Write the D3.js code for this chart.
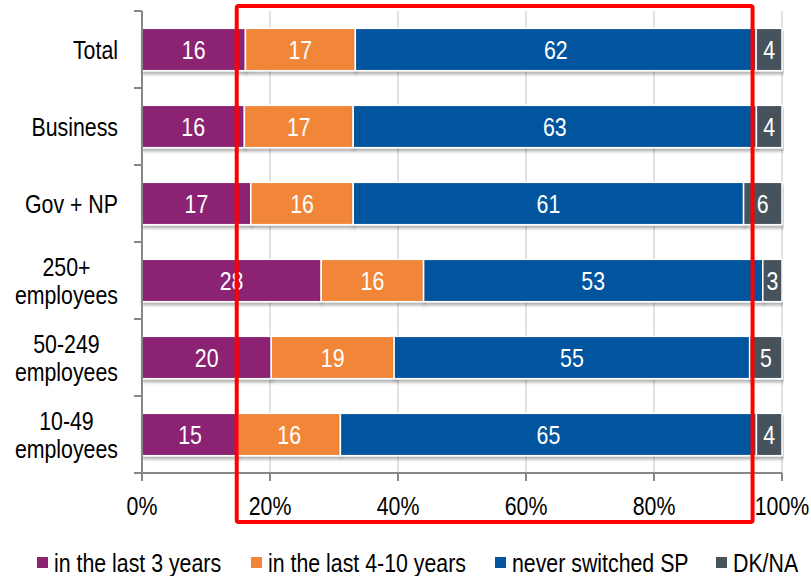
<!DOCTYPE html>
<html>
<head>
<meta charset="utf-8">
<script src="https://cdnjs.cloudflare.com/ajax/libs/d3/7.8.5/d3.min.js"></script>
<style>
  body { margin: 0; background: #fff; }
  svg text { font-family: "Liberation Sans Narrow", "Arial Narrow", "Liberation Sans", Arial, sans-serif; }
</style>
</head>
<body>
<div id="chart"></div>
<script>
var w = 811;
var h = 576;

// values (%)
var categories = ["Total", "Business", "Gov + NP", "250+\nemployees", "50-249\nemployees", "10-49\nemployees"];
var last3 = [16, 16, 17, 28, 20, 15];
var last4to10 = [17, 17, 16, 16, 19, 16];
var never = [62, 63, 61, 53, 55, 65];
var dkna = [4, 4, 6, 3, 5, 4];
var seriesNames = ["in the last 3 years", "in the last 4-10 years", "never switched SP", "DK/NA"];
var xTicks = [0, 0.2, 0.4, 0.6, 0.8, 1];

var colors = ["#8B2372", "#F18638", "#02559E", "#46535B"];
var keys = ["a", "b", "c", "d"];

var rows = categories.map(function(c, i) {
    return {cat: c, a: last3[i], b: last4to10[i], c: never[i], d: dkna[i]};
});

var plotLeft = 142, plotRight = 782, plotTop = 11, plotBottom = 473;
var fontSize = 26;

var x = d3.scaleLinear().domain([0, 1]).range([plotLeft, plotRight]);
var y = d3.scaleBand()
    .domain(categories)
    .range([plotTop, plotBottom])
    .paddingInner(0.45)
    .paddingOuter(0.225);

var stack = d3.stack().keys(keys).offset(d3.stackOffsetExpand);
var layers = stack(rows);

var svg = d3.select("#chart")
            .append("svg")
                .attr("width", w)
                .attr("height", h);

// squeeze text to look like a narrow face
function narrow(sel) {
    sel.each(function() {
        var len = this.getComputedTextLength();
        d3.select(this)
            .attr("textLength", len * 0.82)
            .attr("lengthAdjust", "spacingAndGlyphs");
    });
}

var defs = svg.append("defs");
var f = defs.append("filter").attr("id", "shadow")
    .attr("x", "-5%").attr("y", "-20%").attr("width", "110%").attr("height", "160%");
f.append("feDropShadow")
    .attr("dx", 1).attr("dy", 3).attr("stdDeviation", 1.5)
    .attr("flood-color", "#000").attr("flood-opacity", 0.3);

// grid
svg.append("g")
    .selectAll("line")
    .data(xTicks.slice(1))
    .enter()
        .append("line")
        .attr("x1", function(d) { return x(d); })
        .attr("x2", function(d) { return x(d); })
        .attr("y1", plotTop)
        .attr("y2", plotBottom)
        .attr("stroke", "#d9d9d9")
        .attr("stroke-width", 1.5);

// bars
var groups = svg.selectAll("g.layer")
    .data(layers)
    .enter()
        .append("g")
            .attr("class", "layer")
            .attr("fill", function(d, i) { return colors[i]; });

groups.selectAll("rect")
    .data(function(d) { return d; })
    .enter()
        .append("rect")
        .attr("x", function(d) { return x(d[0]); })
        .attr("y", function(d) { return y(d.data.cat); })
        .attr("width", function(d) { return x(d[1]) - x(d[0]); })
        .attr("height", y.bandwidth())
        .attr("stroke", "#fff")
        .attr("stroke-width", 1.5)
        .attr("filter", "url(#shadow)");

groups.each(function(layer, li) {
    d3.select(this).selectAll("text")
        .data(layer)
        .enter()
            .append("text")
            .attr("x", function(d) { return (x(d[0]) + x(d[1])) / 2; })
            .attr("y", function(d) { return y(d.data.cat) + y.bandwidth() / 2; })
            .attr("dy", "0.36em")
            .attr("text-anchor", "middle")
            .attr("fill", "#fff")
            .attr("font-size", fontSize)
            .text(function(d) { return d.data[keys[li]]; })
            .call(narrow);
});

// y axis
var axisColor = "#878787";
svg.append("line")
    .attr("x1", plotLeft).attr("x2", plotLeft)
    .attr("y1", plotTop).attr("y2", plotBottom)
    .attr("stroke", axisColor).attr("stroke-width", 2);

var edges = categories.map(function(c) { return y(c) - y.step() * y.paddingInner() / 2; });
edges.push(plotBottom);
svg.append("g").selectAll("line")
    .data(edges)
    .enter()
        .append("line")
        .attr("x1", plotLeft - 8).attr("x2", plotLeft)
        .attr("y1", function(d) { return d; })
        .attr("y2", function(d) { return d; })
        .attr("stroke", axisColor).attr("stroke-width", 2);

var labels = svg.append("g").selectAll("text")
    .data(categories)
    .enter()
        .append("text")
        .attr("font-size", fontSize)
        .attr("fill", "#000");

labels.each(function(c) {
    var t = d3.select(this);
    var parts = c.split("\n");
    var cy = y(c) + y.bandwidth() / 2;
    if (parts.length === 1) {
        t.attr("x", 118).attr("y", cy).attr("dy", "0.36em")
            .attr("text-anchor", "end").text(c)
            .call(narrow);
    } else {
        var spans = parts.map(function(p, i) {
            return t.append("tspan")
                .attr("y", cy + (i - 0.5) * 28)
                .attr("dy", "0.36em")
                .text(p);
        });
        var lens = spans.map(function(s) { return s.node().getComputedTextLength() * 0.82; });
        var maxW = d3.max(lens);
        spans.forEach(function(s, i) {
            s.attr("x", 118 - maxW / 2 - lens[i] / 2)
             .attr("textLength", lens[i])
             .attr("lengthAdjust", "spacingAndGlyphs");
        });
    }
});

// x axis
svg.append("line")
    .attr("x1", plotLeft).attr("x2", plotRight)
    .attr("y1", plotBottom).attr("y2", plotBottom)
    .attr("stroke", axisColor).attr("stroke-width", 2);

var xt = svg.append("g").selectAll("g")
    .data(xTicks)
    .enter()
        .append("g")
        .attr("transform", function(d) { return "translate(" + x(d) + "," + plotBottom + ")"; });
xt.append("line")
    .attr("y1", 0).attr("y2", 8)
    .attr("stroke", axisColor).attr("stroke-width", 2);
xt.append("text")
    .attr("y", 33)
    .attr("dy", "0.36em")
    .attr("text-anchor", "middle")
    .attr("font-size", fontSize)
    .attr("fill", "#000")
    .text(function(d) { return d3.format(".0%")(d); })
    .call(narrow);

// legend
var legendX = [37, 251, 495, 716];
var legend = svg.append("g").selectAll("g")
    .data(seriesNames)
    .enter()
        .append("g")
        .attr("transform", function(d, i) { return "translate(" + legendX[i] + ",563)"; });
legend.append("rect")
    .attr("x", 0).attr("y", -6)
    .attr("width", 11).attr("height", 11)
    .attr("fill", function(d, i) { return colors[i]; });
legend.append("text")
    .attr("x", 17)
    .attr("dy", "0.36em")
    .attr("font-size", fontSize)
    .attr("fill", "#000")
    .text(function(d) { return d; })
    .call(narrow);

// red highlight box
svg.append("rect")
    .attr("x", x(0.148))
    .attr("y", 6)
    .attr("width", x(0.954) - x(0.148))
    .attr("height", 516)
    .attr("rx", 2)
    .attr("fill", "none")
    .attr("stroke", "#FF0000")
    .attr("stroke-width", 4);
</script>
</body>
</html>
